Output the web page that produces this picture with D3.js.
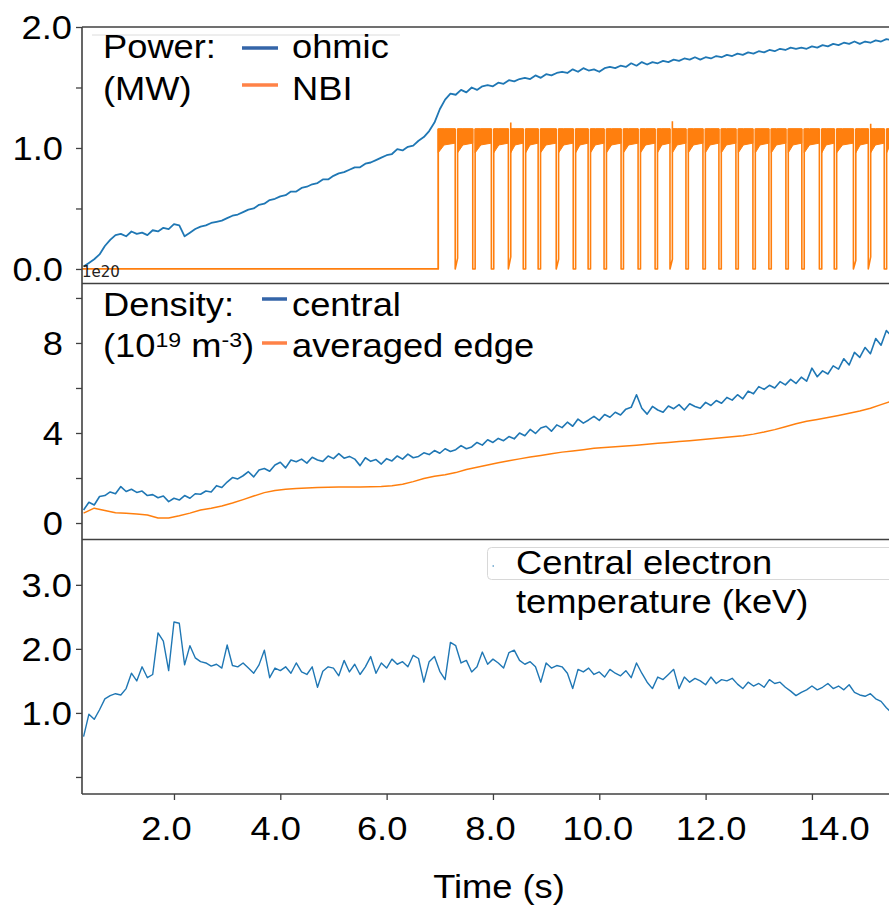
<!DOCTYPE html>
<html><head><meta charset="utf-8">
<script src="https://cdn.jsdelivr.net/npm/d3@7/dist/d3.min.js"></script>
<style>body{margin:0;background:#fff}svg text{font-family:"Liberation Sans",Arial,sans-serif}</style>
</head><body><svg id="c" width="889" height="907"></svg>
<script>
// ---------- data ----------
const timeStart = 0.3, timeStep = 0.1;
const ohmicPower = [
0.02,0.05,0.08,0.12,0.19,0.24,0.28,0.29,0.27,0.31,
0.29,0.30,0.28,0.32,0.31,0.34,0.33,0.37,0.36,0.27,
0.30,0.33,0.35,0.36,0.38,0.39,0.40,0.42,0.44,0.45,
0.47,0.49,0.50,0.53,0.54,0.57,0.58,0.60,0.61,0.64,
0.64,0.67,0.68,0.70,0.71,0.74,0.74,0.77,0.79,0.80,
0.82,0.84,0.84,0.87,0.88,0.90,0.92,0.94,0.95,0.99,
0.98,1.01,1.02,1.06,1.09,1.14,1.21,1.32,1.40,1.45,
1.44,1.48,1.46,1.50,1.48,1.51,1.52,1.51,1.54,1.53,
1.56,1.55,1.57,1.58,1.57,1.60,1.58,1.61,1.60,1.62,
1.63,1.62,1.65,1.63,1.66,1.64,1.65,1.63,1.66,1.67,
1.66,1.68,1.67,1.70,1.68,1.71,1.69,1.71,1.70,1.72,
1.71,1.73,1.72,1.74,1.73,1.75,1.73,1.75,1.74,1.76,
1.75,1.77,1.76,1.78,1.77,1.79,1.78,1.80,1.79,1.81,
1.80,1.82,1.81,1.83,1.82,1.83,1.82,1.84,1.83,1.85,
1.84,1.86,1.85,1.87,1.86,1.88,1.86,1.88,1.87,1.89,
1.88,1.90,1.89];
const nbiOnTime = 6.97;
const nbiNotchTimes = [7.29,7.62,7.97,8.29,8.57,8.85,9.19,9.51,9.79,10.09,10.41,10.73,11.05,11.33,
  11.63,11.95,12.25,12.57,12.89,13.19,13.51,13.81,14.14,14.42,14.78,15.06,15.36];
const nbiNotchDepthA = [0,0,0,0,0,0,0,0,0,0,0,0,0,0,0,0,0,0,0,0,0,0,0,0,0,0,0];
const nbiNotchDepthB = [0.09,0,0,0.10,0,0,0.08,0,0,0,0,0,0,0.08,0,0,0,0,0,0,0,0,0,0,0.07,0.10,0];
const nbiNotchPeakB  = [1.16,1.16,1.16,1.21,1.16,1.16,1.16,1.16,1.16,1.16,1.16,1.16,1.16,1.22,
  1.16,1.16,1.16,1.16,1.16,1.16,1.16,1.16,1.16,1.16,1.16,1.20,1.16];
const nbiBandTop = 1.16, nbiBandBottom = 1.04, nbiRecoveryLow = 0.96;

const densityCentral = [
0.58,0.92,0.80,1.18,1.22,1.38,1.30,1.62,1.40,1.50,
1.36,1.42,1.22,1.26,1.12,1.20,0.95,1.10,1.02,1.22,
1.10,1.30,1.28,1.42,1.38,1.66,1.58,1.82,2.02,1.96,
2.10,2.28,2.05,2.36,2.42,2.30,2.58,2.70,2.45,2.80,
2.72,2.84,2.66,2.92,2.80,2.74,2.98,2.86,3.08,2.88,
2.96,2.84,2.55,2.90,2.74,2.82,2.62,2.86,2.76,2.98,
2.84,3.06,2.90,2.96,3.12,3.04,3.22,3.10,3.30,3.18,
3.26,3.44,3.30,3.38,3.58,3.46,3.70,3.58,3.76,3.66,
3.84,3.74,4.00,3.88,4.16,3.98,4.22,4.30,4.08,4.36,
4.24,4.48,4.30,4.62,4.44,4.58,4.74,4.56,4.82,4.70,
4.92,4.80,5.06,5.14,5.70,5.10,4.84,5.18,5.02,4.92,
5.20,5.08,5.26,5.02,5.30,5.18,5.10,5.36,5.22,5.44,
5.32,5.58,5.46,5.70,5.52,5.86,5.74,6.06,5.94,6.12,
6.00,6.28,6.14,6.38,6.20,6.48,6.30,6.88,6.50,6.76,
6.62,6.98,6.84,7.30,7.02,7.58,7.36,7.80,7.52,8.20,
7.90,8.55,8.30];
const edgeStart = 0.3, edgeStep = 0.2;
const densityEdge = [
0.44,0.66,0.56,0.46,0.43,0.40,0.36,0.22,0.22,0.32,
0.44,0.58,0.66,0.76,0.89,1.04,1.20,1.35,1.44,1.50,
1.53,1.56,1.58,1.59,1.60,1.60,1.60,1.61,1.62,1.66,
1.72,1.84,1.98,2.08,2.14,2.24,2.38,2.48,2.58,2.68,
2.77,2.85,2.93,3.00,3.08,3.15,3.20,3.26,3.32,3.36,
3.39,3.42,3.46,3.50,3.54,3.58,3.62,3.66,3.70,3.74,
3.79,3.83,3.88,3.95,4.04,4.15,4.28,4.41,4.52,4.60,
4.69,4.78,4.88,4.98,5.10,5.26,5.42];
const electronTemp = [
0.63,0.98,0.90,1.05,1.22,1.27,1.30,1.28,1.38,1.62,
1.50,1.72,1.55,1.60,2.25,2.12,1.66,2.42,2.40,1.75,
2.05,1.86,1.80,1.78,1.73,1.76,1.70,2.06,1.74,1.72,
1.78,1.70,1.62,1.75,1.98,1.55,1.70,1.66,1.72,1.62,
1.78,1.64,1.60,1.72,1.40,1.65,1.72,1.70,1.58,1.82,
1.64,1.76,1.60,1.72,1.88,1.62,1.78,1.70,1.84,1.76,
1.80,1.72,1.90,1.85,1.48,1.80,1.88,1.65,1.52,2.10,
2.05,1.78,1.82,1.64,1.72,1.95,1.76,1.84,1.78,1.70,
1.94,1.98,1.82,1.76,1.80,1.72,1.48,1.78,1.70,1.74,
1.72,1.62,1.38,1.68,1.64,1.70,1.60,1.64,1.56,1.68,
1.62,1.58,1.66,1.55,1.78,1.62,1.48,1.38,1.56,1.52,
1.60,1.68,1.38,1.56,1.48,1.54,1.50,1.44,1.56,1.46,
1.52,1.50,1.54,1.45,1.38,1.48,1.42,1.46,1.40,1.52,
1.46,1.48,1.40,1.34,1.27,1.32,1.36,1.42,1.36,1.40,
1.46,1.38,1.42,1.36,1.44,1.32,1.28,1.26,1.30,1.22,
1.18,1.08,1.00];

const xTicks = [2, 4, 6, 8, 10, 12, 14];
const xTickLabels = ["2.0","4.0","6.0","8.0","10.0","12.0","14.0"];
const powerTicks = [0, 0.5, 1, 1.5, 2];
const powerTickLabels = ["0.0", "", "1.0", "", "2.0"];
const densityTicks = [0, 2, 4, 6, 8, 10];
const densityTickLabels = ["0", "", "4", "", "8", ""];
const tempTicks = [0, 1, 2, 3];
const tempTickLabels = ["", "1.0", "2.0", "3.0"];

// ---------- layout / style ----------
const C0 = "#1f77b4", C1 = "#ff7f0e", AX = "#404040";
const xLabelNudge = [-8, -5, -5, -3, -2, 5, 22];
const svg = d3.select("#c");
svg.append("rect").attr("width", 889).attr("height", 907).attr("fill", "#fff");
const L = 82, R = 897;
const x = d3.scaleLinear().domain([0.27, 15.6]).range([L, R]);
const yP = d3.scaleLinear().domain([-0.116, 2.0]).range([283, 27]);
const yD = d3.scaleLinear().domain([-0.71, 10.62]).range([539, 284]);
const yT = d3.scaleLinear().domain([-0.266, 3.70]).range([794, 540]);
const FS = 33, SX = 1.1;

const toPts = (arr, t0, dt) => arr.map((v, i) => [t0 + i * dt, v]);

function clipFor(id, y) {
  svg.append("clipPath").attr("id", id).append("rect")
    .attr("x", L).attr("y", y.range()[1]).attr("width", R - L).attr("height", y.range()[0] - y.range()[1]);
  return svg.append("g").attr("clip-path", `url(#${id})`);
}
function drawLine(g, pts, y, color, w) {
  g.append("path").datum(pts).attr("fill", "none").attr("stroke", color)
    .attr("stroke-width", w).attr("stroke-linejoin", "round")
    .attr("d", d3.line().x(d => x(d[0])).y(d => y(d[1])));
}
function stretchText(g, txt, px, py, anchor, size) {
  return g.append("text").attr("transform", `translate(${px},${py}) scale(${SX},1)`)
    .attr("text-anchor", anchor || "start").attr("font-size", size || FS).attr("fill", "#000").text(txt);
}
function yAxis(y, ticks, labels, offsets) {
  const ax = d3.axisLeft(y).tickValues(ticks).tickSize(6).tickFormat((d, i) => labels[i]);
  const g = svg.append("g").attr("transform", `translate(${L},0)`).call(ax);
  g.select(".domain").remove();
  g.selectAll(".tick line").attr("stroke", AX).attr("stroke-width", 1.3);
  g.selectAll(".tick text").each(function (d) {
    d3.select(this).attr("x", null).attr("dy", null).attr("y", null)
      .attr("transform", `translate(${-offsets(d)},11.5) scale(${SX},1)`)
      .attr("font-size", FS).attr("fill", "#000").attr("font-family", null);
  });
}

// Panel 1: power
const g1 = clipFor("cp1", yP);
drawLine(g1, toPts(ohmicPower, timeStart, timeStep), yP, C0, 1.8);
drawLine(g1, [[x.domain()[0], 0], [nbiOnTime, 0], [nbiOnTime, nbiBandTop]], yP, C1, 1.8);
const nbiStarts = [nbiOnTime].concat(nbiNotchTimes.map(t => t + 0.045));
const segEnds = nbiNotchTimes.concat([x.domain()[1]]);
const bandArea = d3.area().x(d => x(d[0])).y0(d => yP(d[1])).y1(d => yP(nbiBandTop));
nbiStarts.forEach((a, i) => {
  const b = segEnds[i];
  const pts = [[a, nbiRecoveryLow], [a + 0.35 * (b - a), nbiBandBottom - 0.015], [b, nbiBandBottom]];
  g1.append("path").datum(pts).attr("fill", C1).attr("stroke", C1).attr("stroke-width", 1).attr("d", bandArea);
});
nbiNotchTimes.forEach((t, i) => {
  drawLine(g1, [[t, nbiBandTop], [t, nbiNotchDepthA[i]], [t + 0.045, nbiNotchDepthB[i]], [t + 0.045, nbiNotchPeakB[i]]], yP, C1, 1.6);
});

// Panel 2: density
const g2 = clipFor("cp2", yD);
drawLine(g2, toPts(densityCentral, timeStart, timeStep), yD, C0, 1.6);
drawLine(g2, toPts(densityEdge, edgeStart, edgeStep), yD, C1, 1.5);

// Panel 3: temperature
const g3 = clipFor("cp3", yT);
drawLine(g3, toPts(electronTemp, timeStart, timeStep), yT, C0, 1.4);

// Frames
[27, 283.5, 539.5, 794].forEach(yy => svg.append("line").attr("x1", L).attr("x2", 889)
  .attr("y1", yy).attr("y2", yy).attr("stroke", AX).attr("stroke-width", 1.6));
svg.append("line").attr("x1", L).attr("x2", L).attr("y1", 27).attr("y2", 794)
  .attr("stroke", AX).attr("stroke-width", 1.6);

// Y axes
yAxis(yP, powerTicks, powerTickLabels, d => d === 2 ? 10 : 19);
yAxis(yD, densityTicks, densityTickLabels, d => 19);
yAxis(yT, tempTicks, tempTickLabels, d => 10);

// X axis
const xa = d3.axisBottom(x).tickValues(xTicks).tickSize(6).tickFormat((d, i) => xTickLabels[i]);
const gx = svg.append("g").attr("transform", "translate(0,794)").call(xa);
gx.select(".domain").remove();
gx.selectAll(".tick line").attr("stroke", AX).attr("stroke-width", 1.3);
gx.selectAll(".tick text").each(function (d, i) {
  d3.select(this).attr("y", null).attr("dy", null)
    .attr("transform", `translate(${xLabelNudge[i]},46) scale(${SX},1)`)
    .attr("font-size", FS).attr("fill", "#000").attr("font-family", null);
});
stretchText(svg, "Time (s)", 499, 898, "middle", FS);

// offset text
svg.append("text").attr("x", 82).attr("y", 277).attr("font-size", 15)
  .style("font-family", "'DejaVu Sans'").attr("fill", "#222").text("1e20");

// Legends
svg.append("line").attr("x1", 92).attr("x2", 400).attr("y1", 35).attr("y2", 35).attr("stroke", "#dcdcdc").attr("stroke-width", 1);
stretchText(svg, "Power:", 103, 58);
stretchText(svg, "(MW)", 103, 100);
svg.append("line").attr("x1", 242).attr("x2", 278).attr("y1", 48).attr("y2", 48).attr("stroke", "#3465a8").attr("stroke-width", 3.5);
svg.append("line").attr("x1", 242).attr("x2", 278).attr("y1", 85).attr("y2", 85).attr("stroke", "#ff8247").attr("stroke-width", 3.5);
stretchText(svg, "ohmic", 292, 58);
stretchText(svg, "NBI", 292, 100);

stretchText(svg, "Density:", 103, 316);
const dl = stretchText(svg, "(10", 103, 357);
dl.append("tspan").attr("font-size", 21).attr("dy", -10).text("19");
dl.append("tspan").attr("font-size", FS).attr("dy", 10).text(" m");
dl.append("tspan").attr("font-size", 21).attr("dy", -10).text("-3");
dl.append("tspan").attr("font-size", FS).attr("dy", 10).text(")");
svg.append("line").attr("x1", 262).attr("x2", 287).attr("y1", 299).attr("y2", 299).attr("stroke", "#3465a8").attr("stroke-width", 3.5);
svg.append("line").attr("x1", 262).attr("x2", 287).attr("y1", 343).attr("y2", 343).attr("stroke", "#ff8247").attr("stroke-width", 3.5);
stretchText(svg, "central", 292, 316);
stretchText(svg, "averaged edge", 292, 357);

svg.append("rect").attr("x", 487.5).attr("y", 547.5).attr("width", 420).attr("height", 32).attr("rx", 4)
  .attr("fill", "none").attr("stroke", "#d8d8d8").attr("stroke-width", 1);
svg.append("line").attr("x1", 492.5).attr("x2", 494).attr("y1", 566).attr("y2", 566).attr("stroke", C0).attr("stroke-width", 1.2);
stretchText(svg, "Central electron", 516, 574);
stretchText(svg, "temperature (keV)", 516, 613);
</script></body></html>
